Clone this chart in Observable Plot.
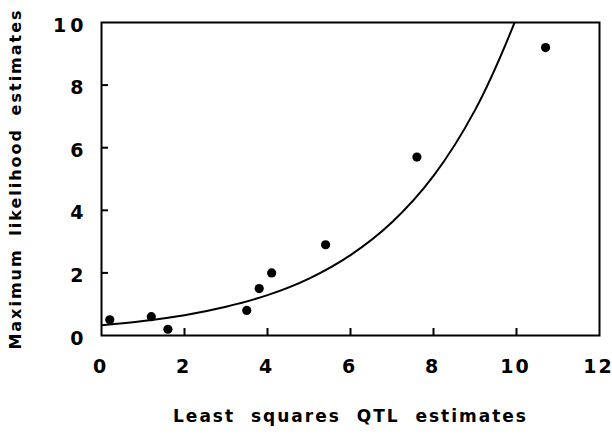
<!DOCTYPE html>
<html>
<head>
<meta charset="utf-8">
<script src="https://cdn.jsdelivr.net/npm/d3@7"></script>
<script src="https://cdn.jsdelivr.net/npm/@observablehq/plot@0.6"></script>
<style>
html, body { margin: 0; padding: 0; background: #fff; }
</style>
</head>
<body>
<div id="chart"></div>
<script>
// Observed points
const lsEstimates = [0.2, 1.2, 1.6, 3.5, 3.8, 4.1, 5.4, 7.6, 10.7];
const mlEstimates = [0.5, 0.6, 0.2, 0.8, 1.5, 2.0, 2.9, 5.7, 9.2];
// Fitted curve
const curveX = [0, 1, 2, 3, 4, 5, 6, 7, 8, 9, 10, 10.2];
const curveY = [0.33, 0.465, 0.65, 0.92, 1.29, 1.82, 2.57, 3.62, 5.1, 7.2, 10.15, 10.9];
// Ticks and labels
const xTicks = [0, 2, 4, 6, 8, 10, 12];
const yTicks = [0, 2, 4, 6, 8, 10];
const xTitle = "Least  squares  QTL  estimates";
const yTitle = "Maximum likelihood estimates";

const points = lsEstimates.map((x, i) => ({x, y: mlEstimates[i]}));
const curve = curveX.map((x, i) => ({x, y: curveY[i]}));

const font = "'DejaVu Sans', sans-serif";

const chart = Plot.plot({
  width: 612,
  height: 436,
  marginLeft: 101,
  marginRight: 13,
  marginTop: 22,
  marginBottom: 101,
  style: {background: "#fff", color: "#000"},
  x: {domain: [0, 12], axis: null},
  y: {domain: [0, 10], axis: null},
  marks: [
    Plot.line(curve, {x: "x", y: "y", curve: "catmull-rom", stroke: "#000", strokeWidth: 2, clip: true}),
    Plot.dot(points, {x: "x", y: "y", r: 4.6, fill: "#000", stroke: "none"}),
    Plot.frame({stroke: "#000", strokeWidth: 2}),
    Plot.ruleX(xTicks.slice(1, -1), {x: d => d, y1: 0, y2: 0, insetTop: -7, stroke: "#000", strokeWidth: 2}),
    Plot.ruleY(yTicks.slice(1, -1), {y: d => d, x1: 0, x2: 0, insetRight: -7, stroke: "#000", strokeWidth: 2}),
    Plot.text(xTicks, {x: d => d, y: 0, dy: 31, dx: -1, text: d => String(d) + "\u200B", fontSize: 19, fontWeight: "bold", fontFamily: font}),
    Plot.text(yTicks, {x: 0, y: d => d, dx: -14, dy: 3, textAnchor: "end", text: d => String(d), fontSize: 19, fontWeight: "bold", fontFamily: font}),
    Plot.text([xTitle], {text: d => d, frameAnchor: "bottom", dy: 86, fontSize: 17, fontWeight: "bold", fontFamily: font}),
    Plot.text([yTitle], {text: d => d, frameAnchor: "left", textAnchor: "middle", dx: -86, rotate: -90, fontSize: 16, fontWeight: "bold", fontFamily: font})
  ]
});

const yTickStrings = new Set(yTicks.map(String));
const xTickStrings = new Set(xTicks.map(d => String(d) + "\u200B"));
d3.select(chart).selectAll("text").each(function() {
  const t = this.textContent;
  const s = d3.select(this);
  if (yTickStrings.has(t)) {
    s.style("letter-spacing", "4px");
  } else if (xTickStrings.has(t)) {
    s.style("letter-spacing", "2px");
  } else if (t === xTitle) {
    s.style("white-space", "pre").style("letter-spacing", "2px");
  } else if (t === yTitle) {
    s.style("letter-spacing", "2px").style("word-spacing", "5px");
  }
});

document.getElementById("chart").appendChild(chart);
</script>
</body>
</html>
